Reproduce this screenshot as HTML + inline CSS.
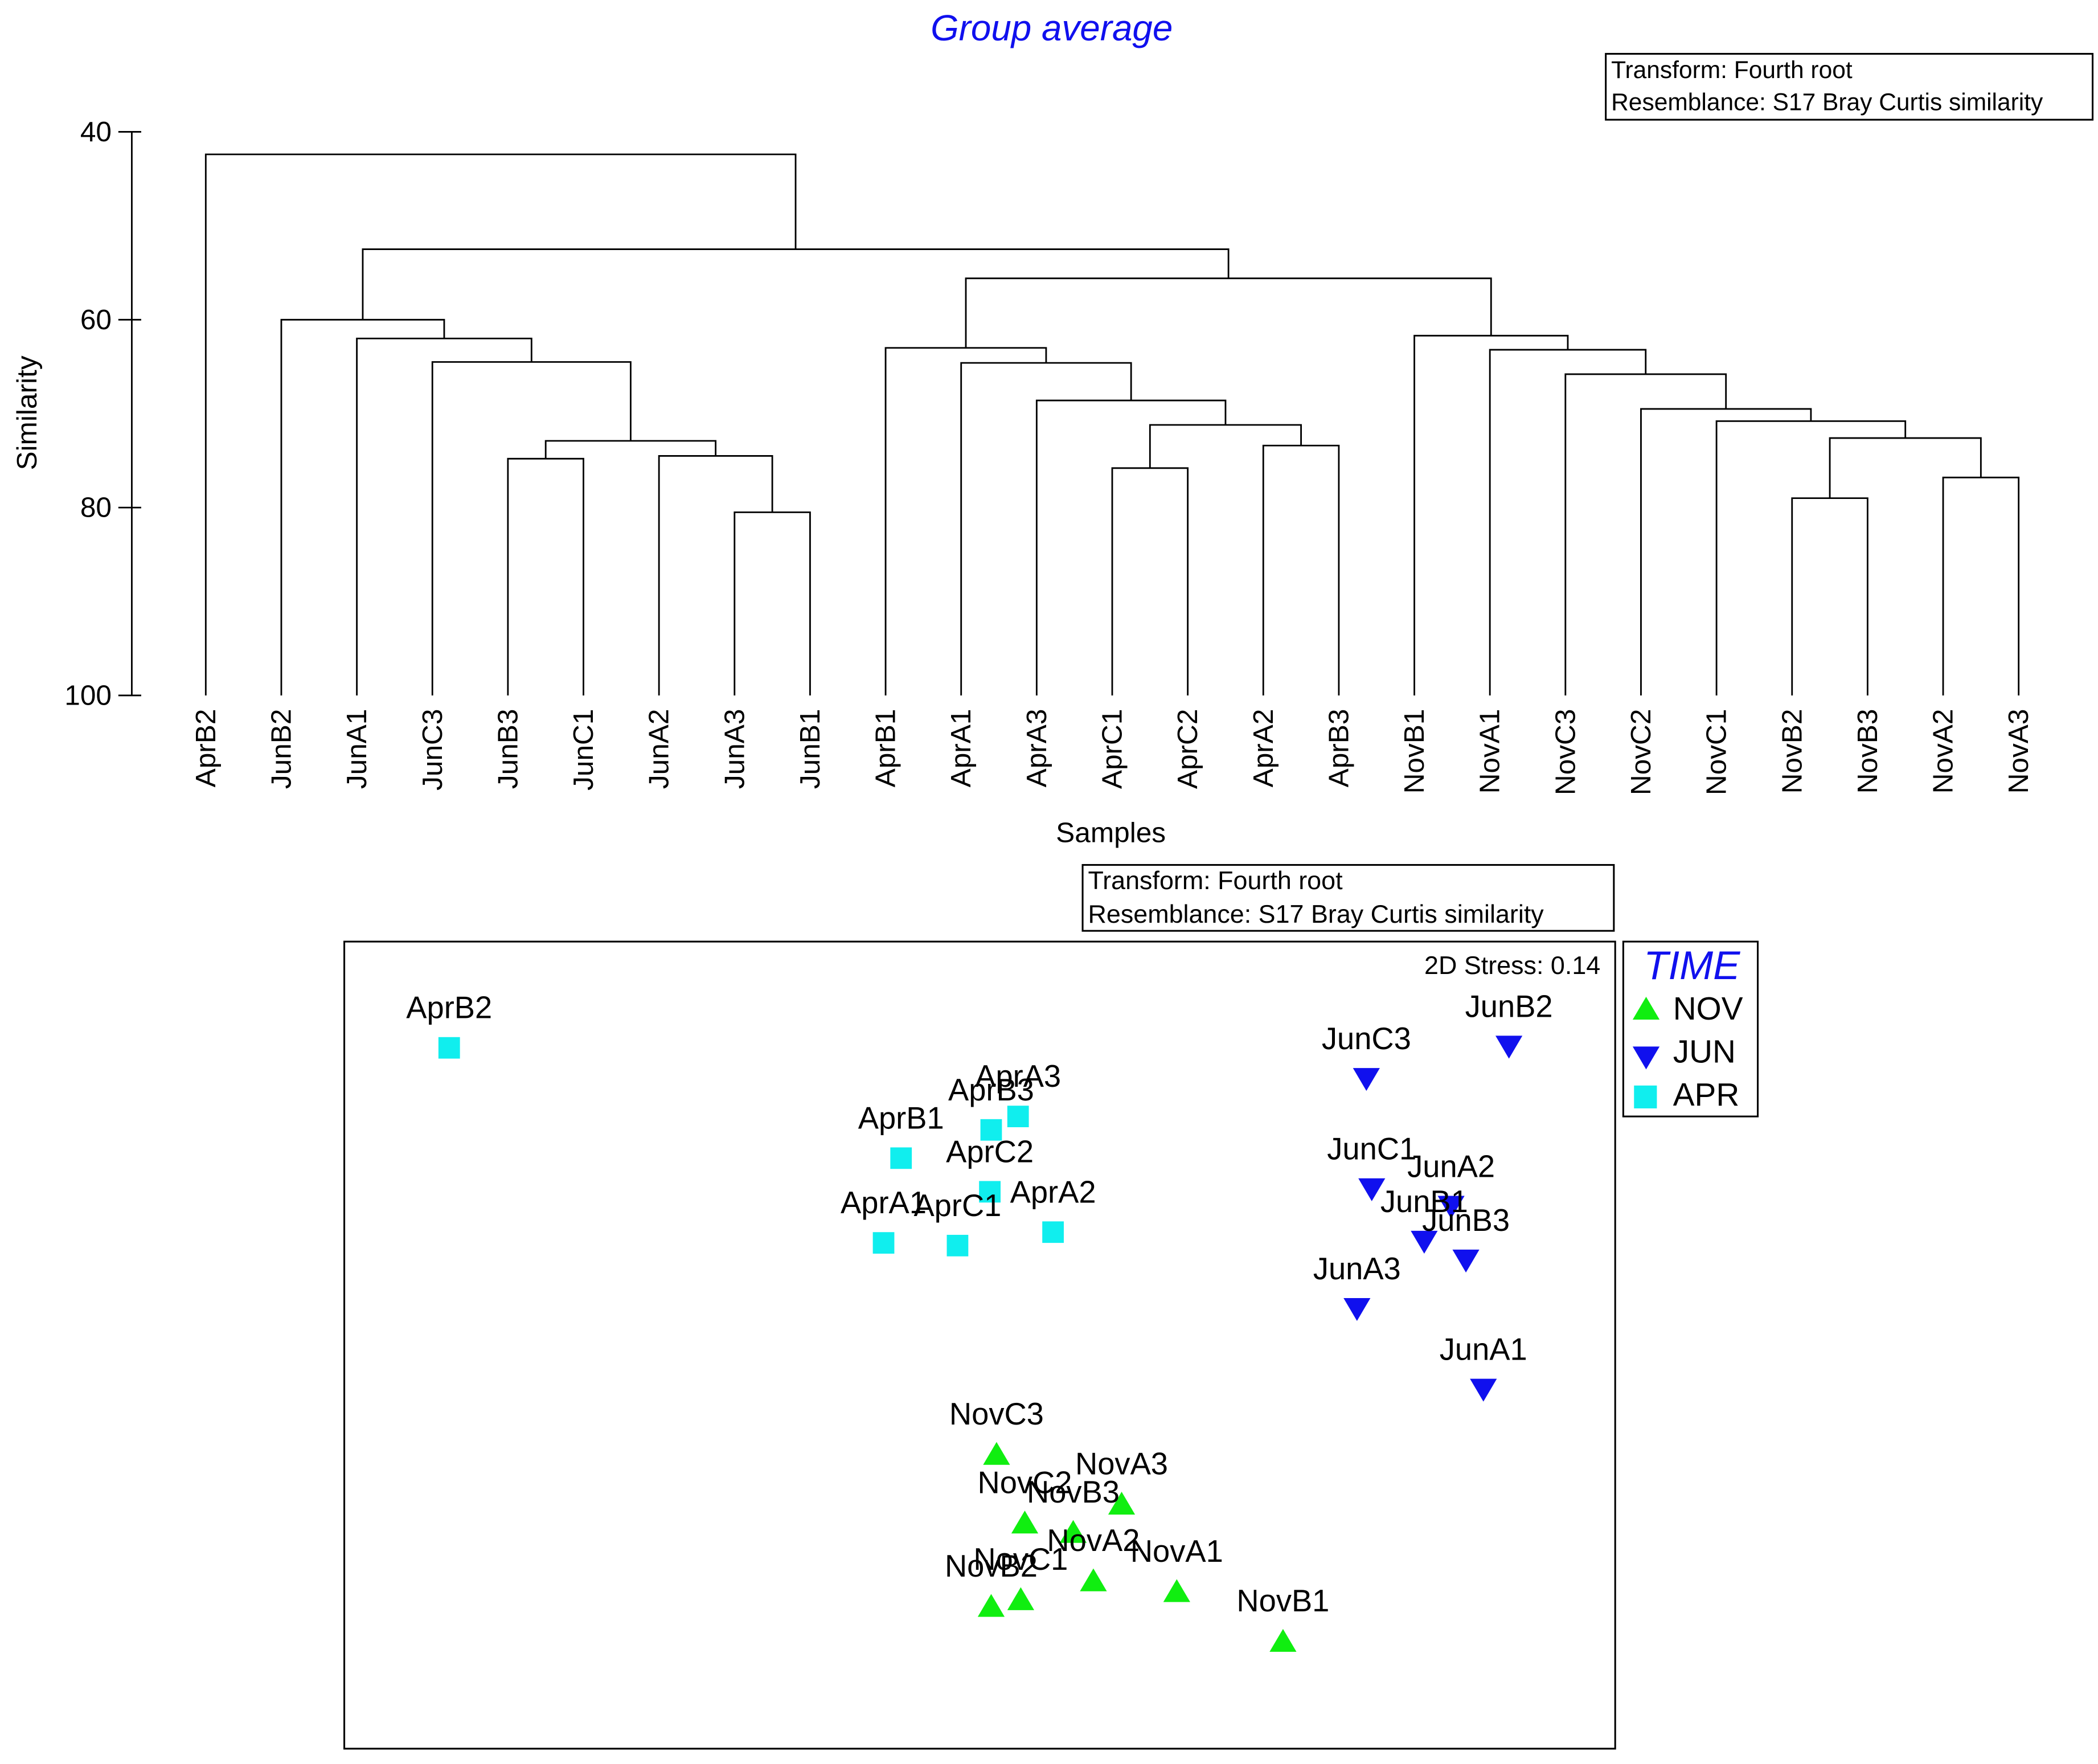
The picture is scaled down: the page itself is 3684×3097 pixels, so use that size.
<!DOCTYPE html>
<html><head><meta charset="utf-8"><style>
html,body{margin:0;padding:0;background:#fff;}
svg{display:block;font-family:"Liberation Sans",Arial,sans-serif;}
</style></head><body>
<svg id="chart" width="3684" height="3097" viewBox="0 0 1560 1311.4" preserveAspectRatio="none" xmlns="http://www.w3.org/2000/svg">
<rect x="0" y="0" width="1560" height="1312" fill="#fff"/>
<text x="782" y="30" font-size="27" font-style="italic" fill="#1010ee" text-anchor="middle">Group average</text>
<g>
<rect x="1194" y="40" width="362" height="49" fill="#fff" stroke="#000" stroke-width="1.3"/>
<text x="1198" y="58" font-size="18">Transform: Fourth root</text>
<text x="1198" y="82" font-size="18">Resemblance: S17 Bray Curtis similarity</text>
</g>
<g id="yaxis"></g>
<g id="dendro"></g>
<g id="leaves"></g>
<text transform="translate(27,307) rotate(-90)" font-size="21" text-anchor="middle">Similarity</text>
<text x="826" y="626" font-size="21" text-anchor="middle">Samples</text>

<g>
<rect x="805" y="643" width="395" height="49" fill="#fff" stroke="#000" stroke-width="1.3"/>
<text x="809" y="661" font-size="19">Transform: Fourth root</text>
<text x="809" y="686" font-size="19">Resemblance: S17 Bray Curtis similarity</text>
</g>
<rect x="256" y="700" width="945" height="600" fill="none" stroke="#000" stroke-width="1.3"/>
<text x="1190" y="724" font-size="19" text-anchor="end">2D Stress: 0.14</text>
<g id="mds"></g>
<g>
<rect x="1207" y="700" width="100" height="130" fill="#fff" stroke="#000" stroke-width="1.3"/>
<text x="1258" y="728" font-size="30" font-style="italic" fill="#1010ee" text-anchor="middle">TIME</text>
<g><polygon points="1224,741 1234,758 1214,758" fill="#10ee10"/><text x="1244" y="758" font-size="24">NOV</text></g>
<g><polygon points="1214,778 1234,778 1224,795" fill="#1010ee"/><text x="1244" y="790" font-size="24">JUN</text></g>
<g><rect x="1215" y="807" width="17" height="17" fill="#10eeee"/><text x="1244" y="822" font-size="24">APR</text></g>
</g>
</svg>
<script>
// Dendrogram data
const leafNames = ["AprB2","JunB2","JunA1","JunC3","JunB3","JunC1","JunA2","JunA3","JunB1","AprB1","AprA1","AprA3","AprC1","AprC2","AprA2","AprB3","NovB1","NovA1","NovC3","NovC2","NovC1","NovB2","NovB3","NovA2","NovA3"];
// merges: [childA, childB, similarity]; indices >= 25 refer to earlier merges (25 + k)
const mergeA = [7,4,6,26,3,2,1,12,14,32,11,10,9,21,23,38,20,19,18,17,16,37,31,0];
const mergeB = [8,5,25,27,28,29,30,13,15,33,34,35,36,22,24,39,40,41,42,43,44,45,46,47];
const mergeSim = [80.5,74.8,74.5,72.9,64.5,62,60,75.8,73.4,71.2,68.6,64.6,63,79,76.8,72.6,70.8,69.5,65.8,63.2,61.7,55.6,52.5,42.4];
const yTicks = [40,60,80,100];

const NS="http://www.w3.org/2000/svg";
function el(tag, attrs, parent){const e=document.createElementNS(NS,tag);for(const k in attrs)e.setAttribute(k,attrs[k]);parent.appendChild(e);return e;}
const yScale = s => 98 + (s-40)*(517-98)/60;
const xLeaf = i => 153 + i*(1501-153)/(leafNames.length-1);

const yaxis=document.getElementById('yaxis');
el('line',{x1:98,y1:yScale(40),x2:98,y2:yScale(100),stroke:'#000','stroke-width':1.2},yaxis);
yTicks.forEach(t=>{
  const l=el('line',{x1:88,y1:yScale(t),x2:105,y2:yScale(t),stroke:'#000','stroke-width':1.2},yaxis);
  
  
  const tx=el('text',{x:83,y:yScale(t)+7,'font-size':21,'text-anchor':'end'},yaxis);
  tx.textContent=t;
  
  
});

const dendro=document.getElementById('dendro');
const leaves=document.getElementById('leaves');
const nodeX=[], nodeY=[];
leafNames.forEach((n,i)=>{
  nodeX.push(xLeaf(i)); nodeY.push(yScale(100));
  const t=el('text',{transform:`translate(${xLeaf(i)+7},527) rotate(-90)`,'font-size':21,'text-anchor':'end'},leaves);
  t.textContent=n;
  
  
});
mergeA.forEach((a,k)=>{
  const b=mergeB[k], y=yScale(mergeSim[k]);
  const p=el('path',{d:`M${nodeX[a]},${nodeY[a]}V${y}H${nodeX[b]}V${nodeY[b]}`,fill:'none',stroke:'#000','stroke-width':1.2},dendro);
  
  
  nodeX.push((nodeX[a]+nodeX[b])/2); nodeY.push(y);
});

// MDS data
const mdsNames = ["AprB2","AprA3","AprB3","AprB1","AprC2","AprA2","AprA1","AprC1","JunB2","JunC3","JunC1","JunA2","JunB1","JunB3","JunA3","JunA1","NovC3","NovA3","NovC2","NovB3","NovA2","NovA1","NovC1","NovB2","NovB1"];
const mdsGroup = ["APR","APR","APR","APR","APR","APR","APR","APR","JUN","JUN","JUN","JUN","JUN","JUN","JUN","JUN","NOV","NOV","NOV","NOV","NOV","NOV","NOV","NOV","NOV"];
const mdsX = [-3.94,0.29,0.09,-0.58,0.08,0.55,-0.71,-0.16,3.94,2.88,2.92,3.51,3.31,3.62,2.81,3.75,0.13,1.06,0.34,0.70,0.85,1.47,0.31,0.09,2.26];
const mdsY = [2.21,1.70,1.60,1.39,1.14,0.84,0.76,0.74,2.22,1.98,1.16,1.03,0.77,0.63,0.27,-0.33,-0.81,-1.18,-1.32,-1.39,-1.75,-1.83,-1.89,-1.94,-2.20];
const mx = v => 728 + v*100;
const my = v => 1000 - v*100;
const colors={APR:'#10eeee',JUN:'#1010ee',NOV:'#10ee10'};
const mds=document.getElementById('mds');
mdsNames.forEach((n,i)=>{
  const x=mx(mdsX[i]), y=my(mdsY[i]), g=mdsGroup[i];
  let m;
  if(g==='APR') m=el('rect',{x:x-8,y:y-8,width:16,height:16,fill:colors[g]},mds);
  else if(g==='JUN') m=el('polygon',{points:`${x-10},${y-8} ${x+10},${y-8} ${x},${y+9}`,fill:colors[g]},mds);
  else m=el('polygon',{points:`${x},${y-9} ${x+10},${y+8} ${x-10},${y+8}`,fill:colors[g]},mds);
  
  
  const t=el('text',{x:x,y:y-22,'font-size':23,'text-anchor':'middle'},mds);
  t.textContent=n;
  
  
});
</script>
</body></html>
